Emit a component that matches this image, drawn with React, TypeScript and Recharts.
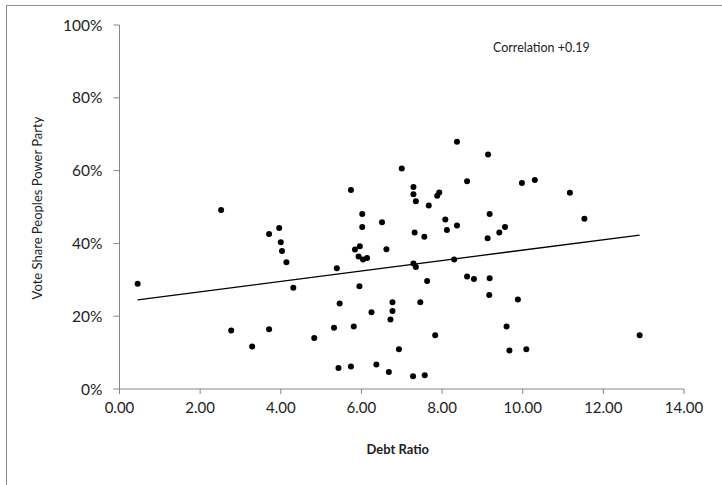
import { ScatterChart, Scatter, XAxis, YAxis } from "recharts";

// values
const debtRatio = [
  0.45, 2.52, 3.71, 3.96, 4.0, 4.03, 4.14, 4.31, 2.77, 3.29, 3.71, 4.83,
  9.14, 7.0, 5.74, 8.62, 7.29, 7.29, 7.35, 7.93, 7.88, 7.67, 6.02, 6.02,
  6.51, 8.08, 8.12, 8.37, 9.18, 7.32, 7.56, 9.13, 9.42, 5.84, 5.96, 6.62,
  5.93, 6.04, 6.14, 5.39, 7.29, 7.35, 8.3, 8.62, 8.79, 9.18, 5.95, 7.63,
  9.17, 5.46, 6.77, 7.46, 6.25, 6.77, 6.72, 5.32, 5.81, 7.83, 6.93, 5.43,
  5.74, 6.37, 6.68, 7.28, 7.57, 9.98, 10.3, 11.17, 11.53, 9.56, 9.88, 9.6,
  9.67, 10.09, 12.9, 8.37,
];
const voteShare = [
  28.9, 49.2, 42.6, 44.2, 40.3, 37.9, 34.8, 27.8, 16.1, 11.7, 16.4, 14.0,
  64.4, 60.6, 54.7, 57.1, 55.5, 53.5, 51.6, 54.0, 53.1, 50.4, 48.1, 44.5,
  45.8, 46.6, 43.7, 44.9, 48.1, 43.0, 41.8, 41.4, 43.0, 38.3, 39.2, 38.4,
  36.4, 35.6, 36.0, 33.2, 34.5, 33.5, 35.6, 30.9, 30.2, 30.4, 28.2, 29.7,
  25.8, 23.5, 23.8, 23.8, 21.1, 21.4, 19.1, 16.8, 17.2, 14.8, 10.9, 5.8,
  6.2, 6.7, 4.7, 3.5, 3.8, 56.6, 57.4, 53.9, 46.8, 44.5, 24.6, 17.2,
  10.6, 10.9, 14.8, 67.9,
];
// trend line end points
const trendX = [0.45, 12.9];
const trendY = [24.5, 42.3];

const xTicks = [0, 2, 4, 6, 8, 10, 12, 14];
const yTicks = [0, 20, 40, 60, 80, 100];

const points = debtRatio.map((d, i) => ({ x: d, y: voteShare[i] }));
const trend = trendX.map((d, i) => ({ x: d, y: trendY[i] }));

const font = "Lato, 'Open Sans', sans-serif";
const axisGray = "#868686";

export default function App() {
  return (
    <div style={{ position: "absolute", left: 0, top: 0, width: 722, height: 485, overflow: "hidden", background: "#fff", fontFamily: font }}>
      {/* outer frame */}
      <div style={{ position: "absolute", left: 6, top: 5, width: 760, height: 520, border: "1px solid #8c8c8c" }} />
      <ScatterChart width={722} height={485} margin={{ top: 25, right: 38, bottom: 0, left: 0 }}>
        <XAxis
          type="number"
          dataKey="x"
          domain={[0, 14]}
          ticks={xTicks}
          tickFormatter={(v: number) => v.toFixed(2)}
          height={96}
          stroke={axisGray}
          tickSize={5}
          tickMargin={8}
          tick={{ fill: "#222", fontSize: 15, fontFamily: font }}
          label={({ viewBox }: any) => (
            <text x={viewBox.x + viewBox.width / 2 - 4} y={viewBox.y + 65} textAnchor="middle" fontSize={13} fontWeight="bold" fill="#222" fontFamily={font}>
              Debt Ratio
            </text>
          )}
        />
        <YAxis
          type="number"
          dataKey="y"
          domain={[0, 100]}
          ticks={yTicks}
          tickFormatter={(v: number) => `${v}%`}
          width={119.5}
          stroke={axisGray}
          tickSize={6}
          tickMargin={11}
          tick={{ fill: "#222", fontSize: 15.5, fontFamily: font }}
          label={({ viewBox }: any) => {
            const cx = 42;
            const cy = viewBox.y + viewBox.height / 2 + 1;
            return (
              <text x={cx} y={cy} transform={`rotate(-90 ${cx} ${cy})`} textAnchor="middle" fontSize={13} fill="#222" fontFamily={font}>
                Vote Share Peoples Power Party
              </text>
            );
          }}
        />
        <Scatter data={points} fill="#000" isAnimationActive={false} shape={(p: any) => <circle cx={p.cx} cy={p.cy} r={3} fill="#000" />} />
        <Scatter data={trend} line={{ stroke: "#000", strokeWidth: 1.3 }} shape={() => <g />} isAnimationActive={false} />
      </ScatterChart>
      <div style={{ position: "absolute", left: 493, top: 40, fontSize: 12.5, color: "#222" }}>Correlation +0.19</div>
    </div>
  );
}
